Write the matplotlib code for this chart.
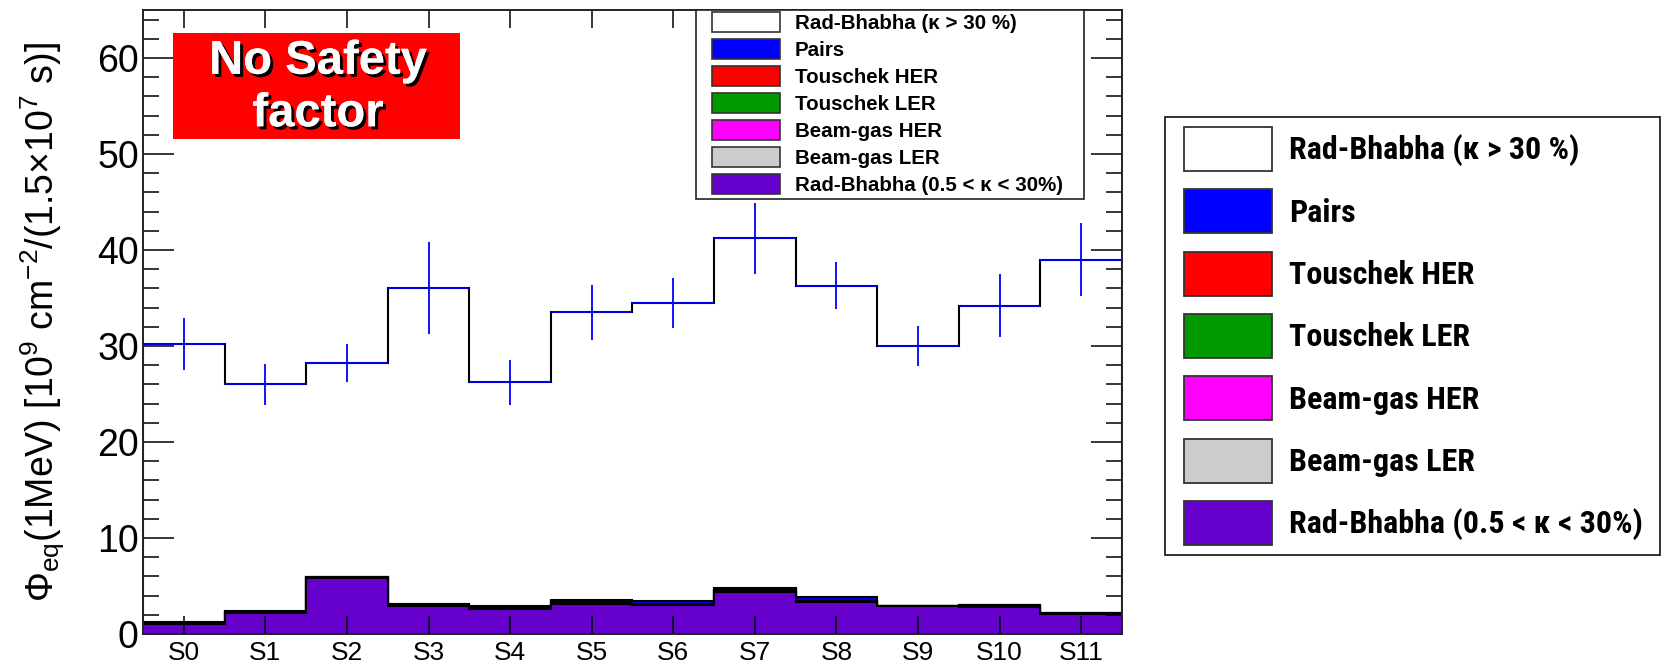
import matplotlib
matplotlib.use("Agg")
import matplotlib.pyplot as plt
import numpy as np
from matplotlib.patches import Patch, Rectangle
from matplotlib import patheffects
from matplotlib import font_manager as fm

plt.rcParams['font.family'] = ['Liberation Sans', 'DejaVu Sans']
plt.rcParams['mathtext.fontset'] = 'custom'
plt.rcParams['mathtext.rm'] = 'Liberation Sans'
plt.rcParams['mathtext.it'] = 'Liberation Sans:italic'
plt.rcParams['mathtext.bf'] = 'Liberation Sans:bold'

# ---------------- data ----------------
sensors = ["S0", "S1", "S2", "S3", "S4", "S5", "S6", "S7", "S8", "S9", "S10", "S11"]
rb_low = [1.00, 2.20, 5.85, 2.95, 2.60, 3.15, 3.00, 4.40, 3.35, 2.90, 2.85, 2.05]
beamgas_ler = [0.03, 0.04, 0.02, 0.05, 0.03, 0.10, 0.04, 0.10, 0.04, 0.02, 0.06, 0.04]
beamgas_her = [0.02, 0.03, 0.01, 0.04, 0.02, 0.08, 0.03, 0.08, 0.03, 0.01, 0.05, 0.03]
touschek_ler = [0.02, 0.03, 0.01, 0.03, 0.02, 0.07, 0.02, 0.07, 0.02, 0.01, 0.04, 0.03]
touschek_her = [0.01, 0.02, 0.01, 0.02, 0.01, 0.05, 0.02, 0.05, 0.02, 0.01, 0.03, 0.02]
pairs = [0.22, 0.03, 0.02, 0.04, 0.27, 0.05, 0.30, 0.05, 0.42, 0.01, 0.04, 0.03]
total = [30.2, 26.0, 28.2, 36.0, 26.2, 33.5, 34.5, 41.2, 36.3, 30.0, 34.2, 39.0]
total_err = [2.7, 2.1, 2.0, 4.8, 2.3, 2.9, 2.6, 3.7, 2.4, 2.1, 3.3, 3.8]

legend_labels = ["Rad-Bhabha (\u03ba > 30 %)", "Pairs", "Touschek HER", "Touschek LER",
                 "Beam-gas HER", "Beam-gas LER", "Rad-Bhabha (0.5 < \u03ba < 30%)"]
legend_colors = ["#FFFFFF", "#0000FF", "#FF0000", "#009900", "#FF00FF", "#CCCCCC", "#6600CC"]

# ---------------- figure ----------------
W, H = 1663, 664
fig = plt.figure(figsize=(W / 100, H / 100), dpi=100)
fig.patch.set_facecolor('white')

def fx(px):
    return px / W

def fy(py):
    return 1 - py / H

def hh(target_px, fs_px):
    # legend handleheight giving a swatch of target_px height
    return (target_px / fs_px - 0.245) / 0.65

ax = fig.add_axes([fx(143), fy(634), (1122 - 143) / W, (634 - 10) / H])

n = len(sensors)
edges = np.arange(n + 1) - 0.5
xc = np.arange(n)

others = [rb_low, beamgas_ler, beamgas_her, touschek_ler, touschek_her, pairs]
other_cols = ["#6600CC", "#CCCCCC", "#FF00FF", "#009900", "#FF0000", "#0000FF"]
cum = []
run = np.zeros(n)
for comp in others:
    run = run + np.array(comp)
    cum.append(run.copy())
total_arr = np.array(total)

ax.stairs(total_arr, edges, fill=True, facecolor="white", edgecolor="black",
          linewidth=1.5, zorder=1)
for c, col in zip(reversed(cum), reversed(other_cols)):
    ax.stairs(c, edges, fill=True, facecolor=col, edgecolor="black",
              linewidth=1.5, zorder=1.1)

ax.errorbar(xc, total_arr, xerr=0.5, yerr=total_err, fmt='none', ecolor="#0000FF",
            elinewidth=1.3, capsize=0, zorder=2)

ax.set_xlim(-0.5, n - 0.5)
ax.set_ylim(0, 65)
ax.set_xticks(xc)
ax.set_xticklabels(sensors)
ax.set_yticks(np.arange(0, 61, 10))
ax.set_yticks(np.arange(0, 65, 2), minor=True)
ax.tick_params(axis='x', which='major', direction='in', length=13, width=1.1,
               top=True, bottom=True, labelsize=19, pad=5, colors='black')
ax.tick_params(axis='x', which='minor', bottom=False, top=False)
ax.tick_params(axis='y', which='major', direction='in', length=22, width=1.1,
               left=True, right=True, labelsize=27, pad=3)
ax.tick_params(axis='y', which='minor', direction='in', length=11.5, width=1.1,
               left=True, right=True)
for s in ax.spines.values():
    s.set_linewidth(1.4)
    s.set_color('#222222')

ax.set_ylabel(r"$\Phi_{\mathrm{eq}}$(1MeV) [10$^{9}$ cm$^{-2}$/(1.5" + "\u00d7" + r"10$^{7}$ s)]",
              fontsize=27)
ax.yaxis.set_label_coords((67 - 143) / 979, 0.5)

# ---------------- No Safety factor box ----------------
fig.add_artist(Rectangle((fx(173), fy(139)), (460 - 173) / W, (139 - 33) / H,
                         transform=fig.transFigure, facecolor="#FF0000",
                         edgecolor="none", zorder=3))
fig.text(fx(318), fy(88), "No Safety\nfactor", ha='center', va='center',
         multialignment='center', fontsize=34, fontweight='bold', color='white',
         linespacing=1.25, zorder=4,
         path_effects=[patheffects.withSimplePatchShadow(offset=(2.2, -2.2),
                                                         shadow_rgbFace='black',
                                                         alpha=1.0),
                       patheffects.Normal()])

# ---------------- inner legend ----------------
isize = 14.8
ifs = isize * 100 / 72.0
handles = [Patch(facecolor=c, edgecolor="#333333", linewidth=1.2) for c in legend_colors]
fig.add_artist(Rectangle((fx(696), fy(199)), (1084 - 696) / W, (199 - 10) / H,
                         transform=fig.transFigure, facecolor="white",
                         edgecolor="#222222", linewidth=1.2, zorder=3))
leg1 = fig.legend(handles, legend_labels, loc='upper left',
                  bbox_to_anchor=(fx(712), fy(12)), bbox_transform=fig.transFigure,
                  frameon=False, borderpad=0, borderaxespad=0,
                  prop={'family': ['Liberation Sans', 'DejaVu Sans'],
                        'weight': 'bold', 'size': isize},
                  handlelength=68 / ifs, handleheight=hh(20, ifs),
                  handletextpad=15 / ifs, labelspacing=6.1 / ifs)
leg1.set_zorder(4)

# ---------------- right legend ----------------
names = {f.name for f in fm.fontManager.ttflist}
rfam = None
for cand in ['Liberation Sans Narrow', 'Arial Narrow', 'Roboto Condensed',
             'DejaVu Sans Condensed', 'Open Sans Condensed']:
    if cand in names:
        rfam = cand
        break
if rfam is not None:
    rsize = 23.0
    rprop = {'family': [rfam, 'DejaVu Sans'], 'weight': 'bold', 'size': rsize}
else:
    rsize = 19.5
    rprop = {'family': ['Liberation Sans', 'DejaVu Sans'], 'weight': 'bold', 'size': rsize}
fs_px = rsize * 100 / 72.0

fig.add_artist(Rectangle((fx(1165), fy(555)), (1660 - 1165) / W, (555 - 117) / H,
                         transform=fig.transFigure, facecolor="white",
                         edgecolor="#222222", linewidth=1.3, zorder=3))
handles2 = [Patch(facecolor=c, edgecolor="#333333", linewidth=1.3) for c in legend_colors]
leg2 = fig.legend(handles2, legend_labels, loc='upper left',
                  bbox_to_anchor=(fx(1184), fy(127)), bbox_transform=fig.transFigure,
                  frameon=False, borderpad=0, borderaxespad=0, prop=rprop,
                  handlelength=88 / fs_px, handleheight=hh(44, fs_px),
                  handletextpad=17 / fs_px, labelspacing=18.3 / fs_px)
leg2.set_zorder(4)

fig.savefig("out.png", dpi=100)
